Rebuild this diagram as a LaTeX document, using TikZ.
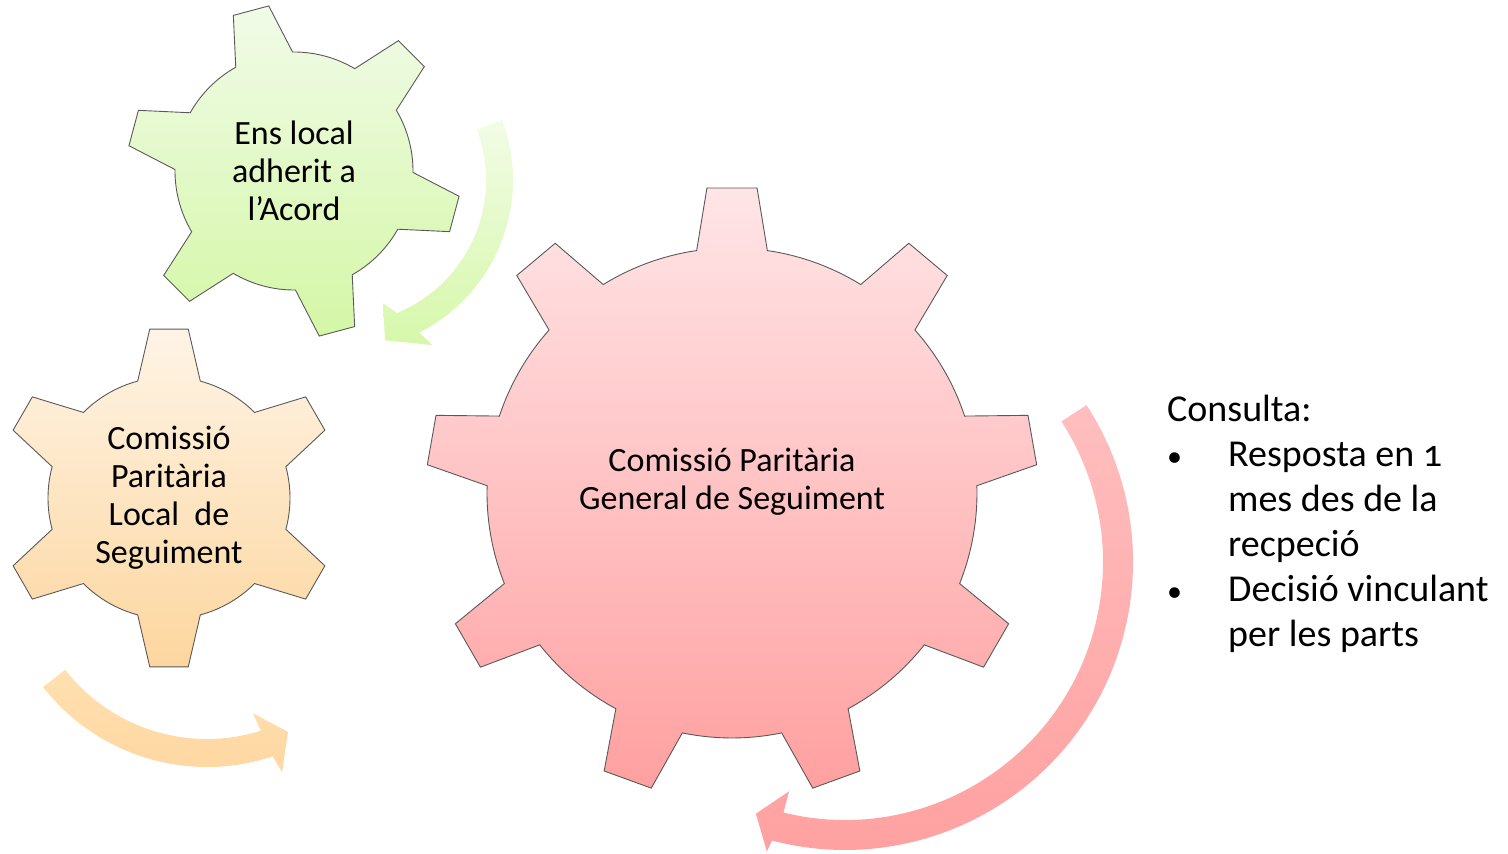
\documentclass[tikz,border=0pt]{standalone}
\usepackage{fontspec}
\setmainfont{Carlito}
\usepackage{tikz}

\definecolor{leaftop}{RGB}{241,251,232}
\definecolor{leafbot}{RGB}{212,247,166}
\definecolor{peachtop}{RGB}{254,244,230}
\definecolor{peachbot}{RGB}{253,214,158}
\definecolor{rosetop}{RGB}{255,229,231}
\definecolor{rosebot}{RGB}{255,160,160}

% wheel outline: teeth, first angle, inner r, outer r, half angle at root, half angle at tip
\newcommand{\gearoutline}[6]{%
  ({#2-#5}:#3)
  \foreach \k in {1,...,#1}{
    -- ({#2+360/#1*(\k-1)-#6}:#4) -- ({#2+360/#1*(\k-1)+#6}:#4)
    -- ({#2+360/#1*(\k-1)+#5}:#3)
    arc[start angle={#2+360/#1*(\k-1)+#5}, end angle={#2+360/#1*\k-#5}, radius=#3]
  } -- cycle}
\newcommand{\smallbullet}{\makebox[61pt][l]{\fontsize{30}{45}\selectfont •}}

\begin{document}
\begin{tikzpicture}[x=1pt, y=1pt,
  gearline/.style={draw=black!65, line width=0.9},
  gearlabel/.style={align=center, inner sep=0, font=\fontsize{34}{38}\selectfont}]
\useasboundingbox (0,0) rectangle (1508,854);

% centres of the wheels and of the turning arrows
\coordinate (ensc) at (294,683);
\coordinate (cplc) at (169,356);
\coordinate (cpgc) at (732,361);
\coordinate (gturn) at (342,674);
\coordinate (oturn) at (207,295);
\coordinate (rturn) at (845,292);

% turning arrows
\shade[top color={rgb,255:red,242;green,252;blue,230}, bottom color={rgb,255:red,214;green,248;blue,170}, shift={(gturn)}]
  (20.5:171) arc[start angle=20.5, end angle=-63.1, radius=171]
  -- (-61.4:188) -- (-75:166) -- (-71.6:130) -- (-67.5:144)
  arc[start angle=-67.5, end angle=20.5, radius=144] -- cycle;
\shade[top color={rgb,255:red,255;green,224;blue,176}, bottom color={rgb,255:red,255;green,214;blue,160}, shift={(oturn)}]
  (-142:208) arc[start angle=-142, end angle=-71.6, radius=208]
  -- (-70.6:226) -- (-64.9:191) -- (-73.4:161) -- (-72.6:180)
  arc[start angle=-72.6, end angle=-142, radius=180] -- cycle;
\shade[top color={rgb,255:red,255;green,190;blue,190}, bottom color={rgb,255:red,255;green,160;blue,160}, shift={(rturn)}]
  (33:288) arc[start angle=33, end angle=-104.7, radius=288]
  -- (-105.1:300) -- (-109.5:267) -- (-103.7:236) -- (-103.8:258)
  arc[start angle=-103.8, end angle=33, radius=258] -- cycle;

% wheels
\shadedraw[gearline, top color=leaftop, bottom color=leafbot, shift={(ensc)}]
  \gearoutline{6}{105}{119}{167}{14.3}{6.3};
\shadedraw[gearline, top color=peachtop, bottom color=peachbot, shift={(cplc)}]
  \gearoutline{6}{90}{121}{170}{15}{6.5};
\shadedraw[gearline, top color=rosetop, bottom color=rosebot, shift={(cpgc)}]
  \gearoutline{9}{90}{245}{306}{8.3}{4.7};

\node[gearlabel] (ens) at (ensc) {Ens local\\adherit a\\l’Acord};
\node[gearlabel] (cpl) at (cplc) {Comissió\\Paritària\\Local\ \ de\\Seguiment};
\node[gearlabel] (cpg) at (732,372) {Comissió Paritària\\General de Seguiment};

\node[anchor=base west, align=left, inner sep=0, font=\fontsize{38}{45}\selectfont] (consulta) at (1167,207)
  {Consulta:\\
   \smallbullet Resposta en {\addfontfeatures{Numbers=OldStyle}1}\\
   \hspace*{61pt}mes des de la\\
   \hspace*{61pt}recpeció\\
   \smallbullet Decisió vinculant\\
   \hspace*{61pt}per les parts};
\end{tikzpicture}
\end{document}
